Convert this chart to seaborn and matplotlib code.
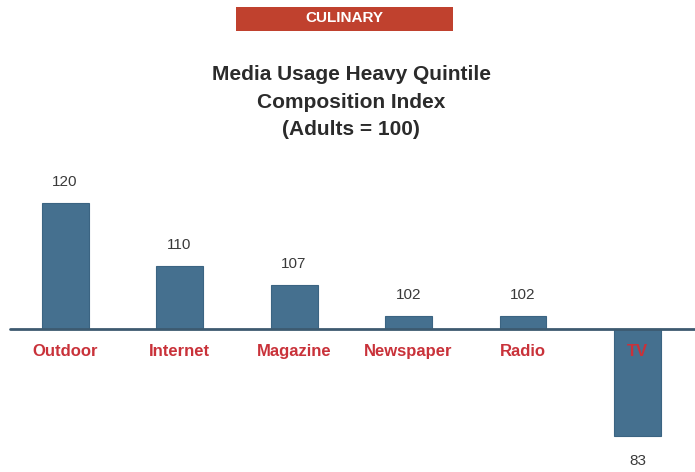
import matplotlib
matplotlib.use("Agg")
import matplotlib.pyplot as plt
from matplotlib.patches import Rectangle
import pandas as pd
import seaborn as sns

# Index values by medium (adults = 100)
categories = ["Outdoor", "Internet", "Magazine", "Newspaper", "Radio", "TV"]
index_values = [120, 110, 107, 102, 102, 83]
base_index = 100

header = "CULINARY"
title = "Media Usage Heavy Quintile\nComposition Index\n(Adults = 100)"

bar_color = "#45708f"
label_red = "#c9323a"
value_grey = "#3a3a3a"

sns.set_theme(style="white")
plt.rcParams["font.family"] = ["Liberation Sans", "DejaVu Sans"]

df = pd.DataFrame({"medium": categories, "index": index_values})
df["delta"] = df["index"] - base_index

fig = plt.figure(figsize=(6.95, 4.72), dpi=100)
ax = fig.add_axes([0, 0, 1, 1])

sns.barplot(data=df, x="medium", y="delta", order=categories, color=bar_color,
            width=0.41, saturation=1, edgecolor="#3b6482", linewidth=0.8, ax=ax)

ax.set_xlim(-0.568, 5.502)
ax.set_ylim(-22.7, 52.2)
ax.axis("off")

# zero line at the adult baseline
ax.axhline(0, xmin=0.014, xmax=1.0, color="#3d5a70", linewidth=2, zorder=3)

for i, (name, val, d) in enumerate(zip(df["medium"], df["index"], df["delta"])):
    if d >= 0:
        ax.annotate(f"{val}", (i, d), xytext=(0, 10), textcoords="offset points",
                    ha="center", va="bottom", fontsize=11, color=value_grey)
    else:
        ax.annotate(f"{val}", (i, d), xytext=(0, -13), textcoords="offset points",
                    ha="center", va="top", fontsize=11, color=value_grey)
    ax.text(i, -3.65, name, ha="center", va="center", fontsize=12,
            fontweight="bold", color=label_red, zorder=4)

# header banner
fig.patches.append(Rectangle((236 / 695, 1 - 31 / 472), 217 / 695, 24 / 472,
                             transform=fig.transFigure, facecolor="#c0412e",
                             edgecolor="none", zorder=5))
fig.text(344 / 695, 1 - 18 / 472, header, ha="center", va="center",
         fontsize=11, fontweight="bold", color="white", zorder=6)

fig.text(351 / 695, 1 - 102 / 472, title, ha="center", va="center",
         fontsize=15, fontweight="bold", color="#2b2b2b", linespacing=1.55)

fig.savefig("out.png", dpi=100, facecolor="white")
